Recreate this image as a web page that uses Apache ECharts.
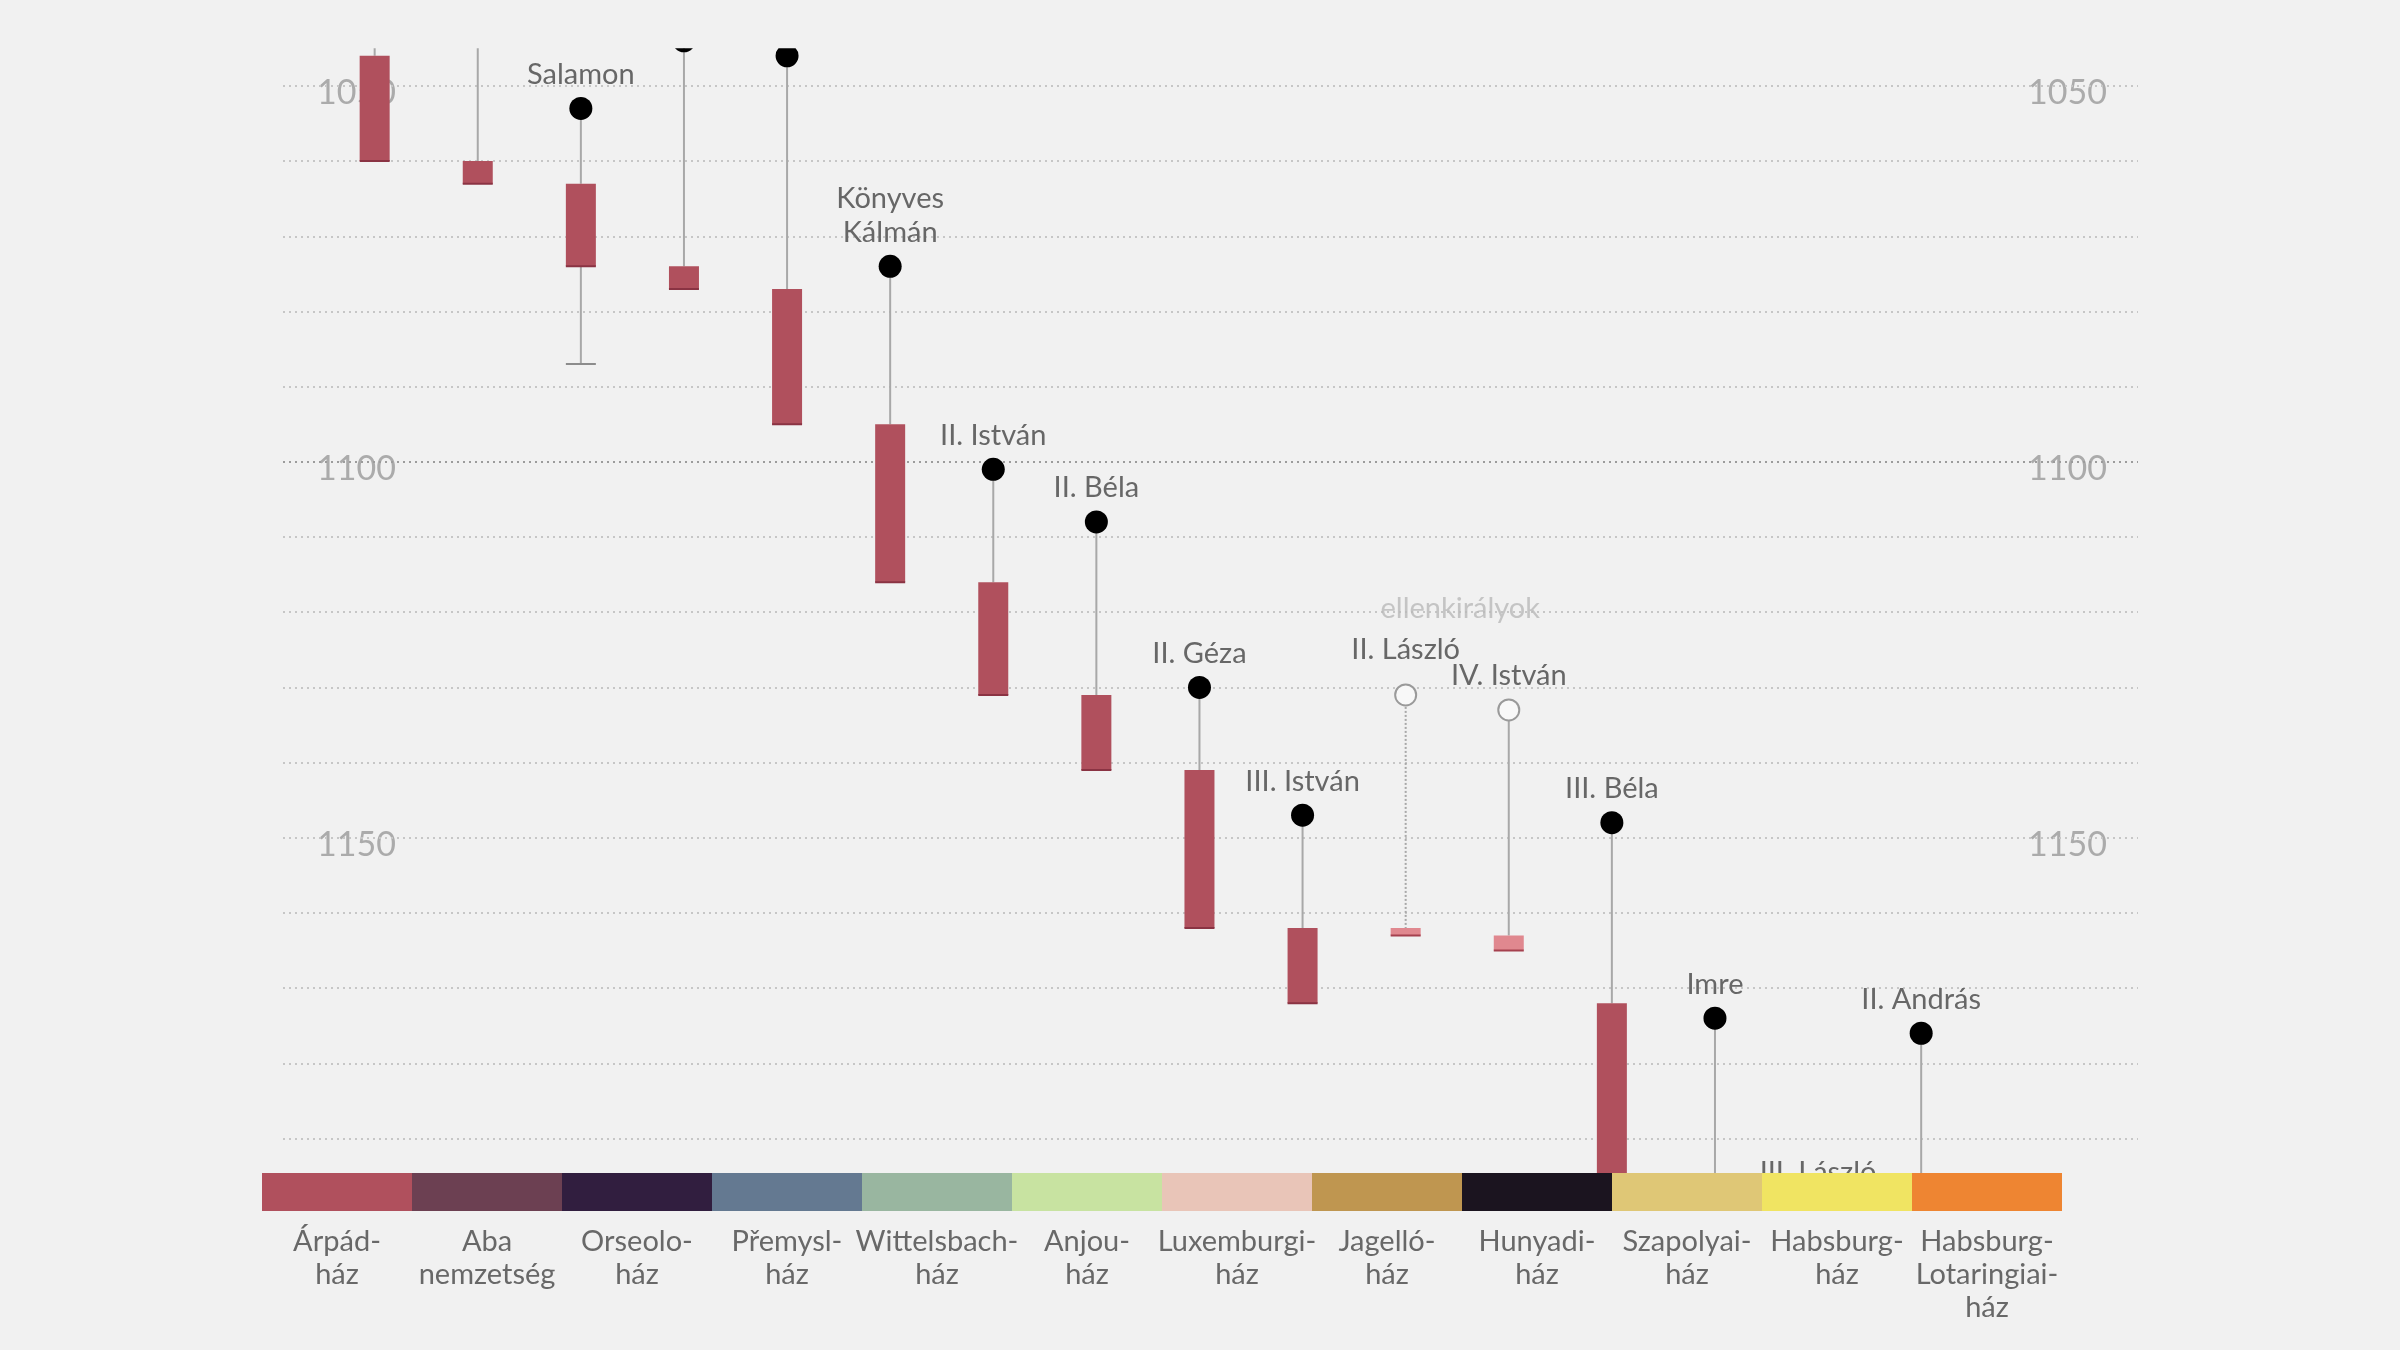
<!DOCTYPE html>
<html>
<head>
<meta charset="utf-8">
<script src="https://cdn.jsdelivr.net/npm/echarts@6/dist/echarts.min.js"></script>
<style>
  html, body { margin: 0; padding: 0; background: #f1f1f1; }
  #chart { width: 2400px; height: 1350px; }
</style>
</head>
<body>
<div id="chart"></div>
<script>
// uralkodók, balról jobbra
const kings = ['I. András', 'I. Béla', 'Salamon', 'I. Géza', 'I. László', 'Könyves\nKálmán',
  'II. István', 'II. Béla', 'II. Géza', 'III. István', 'II. László', 'IV. István',
  'III. Béla', 'Imre', 'III. László', 'II. András'];
const born       = [1015, 1016, 1053, 1044, 1046, 1074, 1101, 1108, 1130, 1147, 1131, 1133, 1148, 1174, 1199, 1176];
const reignStart = [1046, 1060, 1063, 1074, 1077, 1095, 1116, 1131, 1141, 1162, 1162, 1163, 1172, 1196, 1204, 1205];
const reignEnd   = [1060, 1063, 1074, 1077, 1095, 1116, 1131, 1141, 1162, 1172, 1163, 1165, 1196, 1204, 1205, 1235];
const died       = [1060, 1063, 1087, 1077, 1095, 1116, 1131, 1141, 1162, 1172, 1163, 1165, 1196, 1204, 1205, 1235];
const antiKing   = [0, 0, 0, 0, 0, 0, 0, 0, 0, 0, 1, 1, 0, 0, 0, 0]; // ellenkirályok

// uralkodóházak (alsó sáv)
const houses = ['Árpád-\nház', 'Aba\nnemzetség', 'Orseolo-\nház', 'Přemysl-\nház', 'Wittelsbach-\nház',
  'Anjou-\nház', 'Luxemburgi-\nház', 'Jagelló-\nház', 'Hunyadi-\nház', 'Szapolyai-\nház',
  'Habsburg-\nház', 'Habsburg-\nLotaringiai-\nház'];
const houseColors = ['#b0505d', '#6c4052', '#311e3f', '#647991', '#99b6a0', '#c8e3a1',
  '#e9c5b8', '#bf9650', '#1b141f', '#dfc776', '#f0e462', '#ee8532'];

const yearTicks  = [1050, 1060, 1070, 1080, 1090, 1100, 1110, 1120, 1130, 1140, 1150, 1160, 1170, 1180, 1190];
const yearLabels = [1050, 1100, 1150];

const FONT = 'Lato, "Open Sans", sans-serif';
const dottedLine = new Set(['II. László']);
const labelLift = { 'II. László': 11 };

const chart = echarts.init(document.getElementById('chart'));

function renderKing(params, api) {
  const i = params.dataIndex;
  const name = kings[i];
  const anti = antiKing[i] === 1;
  const pB = api.coord([api.value(0), api.value(1)]);
  const pS = api.coord([api.value(0), api.value(2)]);
  const pE = api.coord([api.value(0), api.value(3)]);
  const pD = api.coord([api.value(0), api.value(4)]);
  const x = pB[0];
  const w = 30;
  const kids = [];
  // születés -> trónra lépés
  kids.push({
    type: 'line',
    shape: { x1: x, y1: pB[1], x2: x, y2: pS[1] },
    style: { stroke: '#a8a8a8', lineWidth: 2, lineDash: dottedLine.has(name) ? [2, 2] : null }
  });
  // trónfosztás után: halálig
  if (api.value(4) > api.value(3)) {
    kids.push({ type: 'line', shape: { x1: x, y1: pE[1], x2: x, y2: pD[1] },
      style: { stroke: '#a8a8a8', lineWidth: 2 } });
    kids.push({ type: 'line', shape: { x1: x - w / 2, y1: pD[1], x2: x + w / 2, y2: pD[1] },
      style: { stroke: '#8c8c8c', lineWidth: 2 } });
  }
  // uralkodás
  kids.push({
    type: 'rect',
    shape: { x: x - w / 2, y: pS[1], width: w, height: pE[1] - pS[1] },
    style: { fill: anti ? '#e0888f' : '#b0505d' }
  });
  kids.push({ type: 'line', shape: { x1: x - w / 2, y1: pE[1], x2: x + w / 2, y2: pE[1] },
    style: { stroke: anti ? '#a5414f' : '#8a3343', lineWidth: 2 } });
  kids.push({
    type: 'circle',
    shape: { cx: x, cy: pB[1], r: anti ? 10.5 : 11.5 },
    style: anti ? { fill: '#f8f8f8', stroke: '#9a9a9a', lineWidth: 2 } : { fill: '#000' }
  });
  kids.push({
    type: 'text',
    style: {
      text: name, x: x, y: pB[1] - 17 - (labelLift[name] || 0),
      textAlign: 'center', textVerticalAlign: 'bottom',
      fill: '#676767', fontSize: 29, fontFamily: FONT, lineHeight: 34
    }
  });
  return { type: 'group', children: kids };
}

const gridLines = yearTicks.map(y => ({
  yAxis: y,
  lineStyle: y === 1100 ? { color: '#9c9c9c' } : undefined
}));

const axisLabelBase = {
  inside: true,
  customValues: yearLabels,
  formatter: v => String(v),
  color: '#ababab',
  fontSize: 34,
  fontFamily: FONT,
  verticalAlign: 'top',
  lineHeight: 14
};

const antiIdx = antiKing.map((a, i) => a ? i : null).filter(v => v !== null);
const antiX = antiIdx.reduce((s, v) => s + v, 0) / antiIdx.length;
const antiY = Math.min(...antiIdx.map(i => born[i]));

chart.setOption({
  backgroundColor: '#f1f1f1',
  animation: false,
  grid: [
    { left: 283, right: 262, top: 48.3, height: 1162.7 },
    { left: 262, width: 1800, top: 1173, height: 38 }
  ],
  xAxis: [
    { gridIndex: 0, type: 'value', min: -0.889, max: 17.103, show: false },
    {
      gridIndex: 1, type: 'category', data: houses,
      axisLine: { show: false }, axisTick: { show: false },
      axisLabel: { interval: 0, margin: 14, color: '#686868', fontSize: 29, lineHeight: 33, fontFamily: FONT }
    }
  ],
  yAxis: [
    {
      gridIndex: 0, type: 'value', inverse: true, min: 1045, max: 1199.64, position: 'left',
      axisLine: { show: false }, axisTick: { show: false }, splitLine: { show: false },
      axisLabel: Object.assign({ margin: 34 }, axisLabelBase)
    },
    {
      gridIndex: 0, type: 'value', inverse: true, min: 1045, max: 1199.64, position: 'right',
      axisLine: { show: false }, axisTick: { show: false }, splitLine: { show: false },
      axisLabel: Object.assign({ margin: 31 }, axisLabelBase)
    },
    { gridIndex: 1, type: 'value', min: 0, max: 1, show: false }
  ],
  series: [
    {
      type: 'scatter', xAxisIndex: 0, yAxisIndex: 0, z: 1, silent: true,
      symbolSize: 0,
      data: [[antiX, antiY]],
      label: {
        show: true, formatter: 'ellenkirályok', position: 'inside', offset: [3, -86],
        color: '#b9b9b9', fontSize: 29, fontFamily: FONT
      },
      markLine: {
        z: 1, silent: true, symbol: ['none', 'none'], label: { show: false },
        lineStyle: { type: [2, 4], color: '#c6c6c6', width: 2 },
        data: gridLines
      }
    },
    {
      type: 'custom', xAxisIndex: 0, yAxisIndex: 0, z: 2, clip: true, silent: true,
      encode: { x: 0, y: [1, 2, 3, 4] },
      renderItem: renderKing,
      data: kings.map((k, i) => [i, born[i], reignStart[i], reignEnd[i], died[i]])
    },
    {
      type: 'bar', xAxisIndex: 1, yAxisIndex: 2, z: 10, silent: true,
      barCategoryGap: '0%',
      data: houses.map((h, i) => ({ value: 1, itemStyle: { color: houseColors[i] } }))
    }
  ]
});
</script>
</body>
</html>
